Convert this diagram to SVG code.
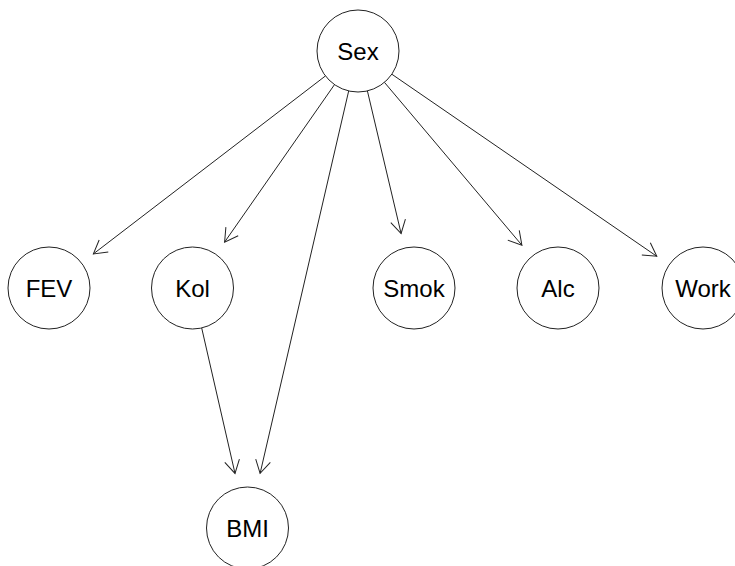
<svg xmlns="http://www.w3.org/2000/svg" width="735" height="566" viewBox="0 0 735 566">
<defs>
<marker id="ah" markerUnits="userSpaceOnUse" markerWidth="30" markerHeight="30" refX="0" refY="0" viewBox="-20 -15 30 30" orient="auto" overflow="visible">
<path d="M -13 -7.5 L 0 0 L -13 7.5" fill="none" stroke="#222" stroke-width="1"/>
</marker>
<style>
.n circle{fill:#fff;stroke:#222;stroke-width:1}
.n text{font-family:"Liberation Sans",Arial,sans-serif;font-size:24px;fill:#000;text-anchor:middle}
.e line{stroke:#222;stroke-width:1;marker-end:url(#ah)}
</style>
</defs>
<rect width="735" height="566" fill="#fff"/>
<g id="edges" class="e">
<line x1="325.5" y1="75.9" x2="93.4" y2="253.9"/>
<line x1="334.5" y1="84.6" x2="224.6" y2="242.1"/>
<line x1="348.7" y1="90.9" x2="260.1" y2="473.4"/>
<line x1="367.4" y1="90.9" x2="401.1" y2="233.5"/>
<line x1="384.4" y1="82.3" x2="521.9" y2="245.2"/>
<line x1="391.8" y1="74.2" x2="656.8" y2="256.3"/>
<line x1="201.7" y1="328" x2="235" y2="473.4"/>
</g>
<g id="Sex" class="n"><circle cx="358" cy="51" r="41"/><text x="358" y="60">Sex</text></g>
<g id="FEV" class="n"><circle cx="49" cy="288" r="41"/><text x="49" y="297">FEV</text></g>
<g id="Kol" class="n"><circle cx="192.5" cy="288" r="41"/><text x="192.5" y="297">Kol</text></g>
<g id="Smok" class="n"><circle cx="414" cy="288" r="41"/><text x="414" y="297">Smok</text></g>
<g id="Alc" class="n"><circle cx="558" cy="288" r="41"/><text x="558" y="297">Alc</text></g>
<g id="Work" class="n"><circle cx="703" cy="288" r="41"/><text x="703" y="297">Work</text></g>
<g id="BMI" class="n"><circle cx="247.5" cy="528" r="41"/><text x="247.5" y="537">BMI</text></g>
</svg>
